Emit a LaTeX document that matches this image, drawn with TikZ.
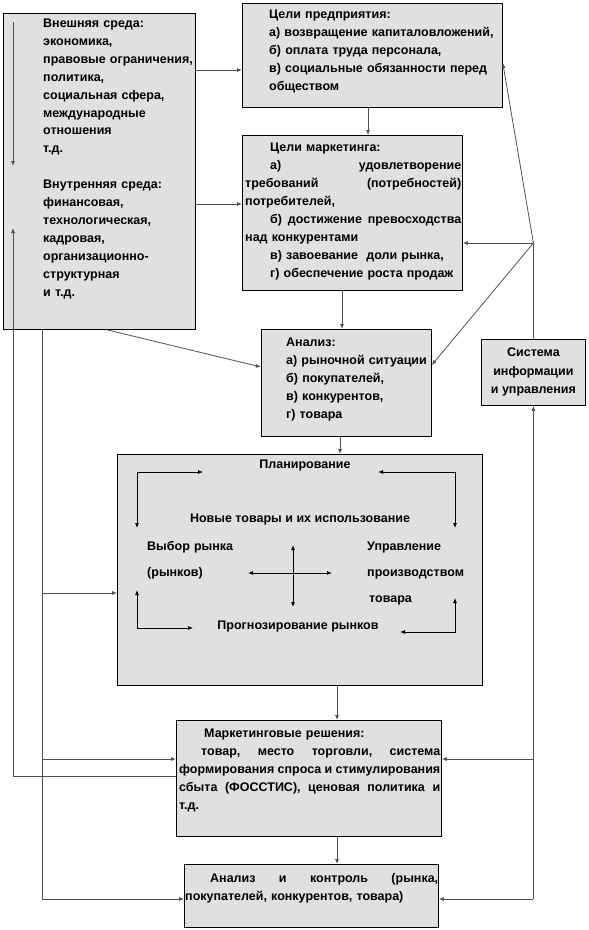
\documentclass[tikz,border=0pt]{standalone}
\usepackage{fontspec}
\setmainfont{Liberation Sans}
\usetikzlibrary{arrows.meta}
\definecolor{boxGray}{RGB}{224,224,224}
\definecolor{lineGray}{RGB}{80,80,80}

\begin{document}
\begin{tikzpicture}[x=1pt, y=-1pt,
    blk/.style={draw, fill=boxGray, line width=0.8pt, inner sep=0pt, anchor=north west},
    txt/.style={inner sep=0pt, anchor=base west, align=left, text width=#1,
                font=\bfseries\fontsize{12.5}{18}\selectfont},
    txt/.default=200pt,
    lbl/.style={inner sep=0pt, anchor=base, font=\bfseries\fontsize{12.5}{18}\selectfont},
    arr/.style={draw=lineGray, line width=0.8pt, -{Latex[length=5pt,width=4pt]}},
    dbl/.style={draw=black, line width=0.8pt, {Latex[length=5pt,width=4pt]}-{Latex[length=5pt,width=4pt]}},
    ln/.style={draw=lineGray, line width=0.8pt}]

    \useasboundingbox (0,0) rectangle (589,930);

    % 1. BLOQUES
    \node[blk, minimum width=192, minimum height=316] (env) at (3,13) {};
    \node[blk, minimum width=260, minimum height=104] (goalsFirm) at (242,3) {};
    \node[blk, minimum width=220, minimum height=155] (goalsMkt) at (242,135) {};
    \node[blk, minimum width=170, minimum height=107] (analysis) at (261,329) {};
    \node[blk, minimum width=104, minimum height=66, align=center,
          font=\bfseries\fontsize{12.5}{18.5}\selectfont] (infoSys) at (481,339)
          {Система\\информации\\и управления};
    \node[blk, minimum width=365, minimum height=231] (planning) at (117,454) {};
    \node[blk, minimum width=265, minimum height=116] (decisions) at (176,720) {};
    \node[blk, minimum width=254, minimum height=63] (control) at (184,864) {};

    % 2. TEXTOS
    \node[txt=150pt, font=\bfseries\fontsize{12.5}{17.9}\selectfont] (envText) at (43,27.5)
        {Внешняя среда:\\экономика,\\правовые ограничения,\\политика,\\социальная сфера,\\
         международные\\отношения\\т.д.\\[17.9pt]
         Внутренняя среда:\\финансовая,\\технологическая,\\кадровая,\\организационно-\\
         структурная\\и т.д.};
    \node[txt=232pt] (firmText) at (269,18.5)
        {Цели предприятия:\\а) возвращение капиталовложений,\\б) оплата труда персонала,\\
         в) социальные обязанности перед\\обществом};
    \node[txt=216pt] (mktText) at (245,151.5)
        {\hspace*{25pt}Цели маркетинга:\\
         \hspace*{25pt}а)\hfill удовлетворение\\
         требований\hfill (потребностей)\\
         потребителей,\\
         \hspace*{25pt}б)\hfill достижение\hfill превосходства\\
         над конкурентами\\
         \hspace*{25pt}в) завоевание\ \ доли рынка,\\
         \hspace*{25pt}г) обеспечение роста продаж};
    \node[txt=144pt] (anText) at (286,346.5)
        {Анализ:\\а) рыночной ситуации\\б) покупателей,\\в) конкурентов,\\г) товара};
    \node[txt=261pt] (decText) at (179,737.5)
        {\hspace*{25pt}Маркетинговые решения:\\
         \hspace*{22pt}товар,\hfill место\hfill торговли,\hfill система\\
         формирования\hfill спроса\hfill и\hfill стимулирования\\
         сбыта\hfill (ФОССТИС),\hfill ценовая\hfill политика\hfill и\\
         т.д.};
    \node[txt=253pt] (ctrlText) at (185,882.5)
        {\hspace*{25pt}Анализ\hfill и\hfill контроль\hfill (рынка,\\
         покупателей, конкурентов, товара)};

    % 3. PLANIFICACION (interior)
    \begin{scope}[shift={(planning.north west)}]
        \node[lbl] (planTitle) at (188,14.5) {Планирование};
        \node[lbl] (newGoods) at (183,68.5) {Новые товары и их использование};
        \node[txt=90pt, font=\bfseries\fontsize{12.5}{26}\selectfont] (choice) at (30,96.5)
            {Выбор рынка\\(рынков)};
        \node[txt=110pt, font=\bfseries\fontsize{12.5}{26}\selectfont] (prodMgmt) at (250,96.5)
            {Управление\\производством\\\hspace*{2pt}товара};
        \node[lbl] (forecast) at (181,175.5) {Прогнозирование рынков};
        \draw[dbl] (86,18) -| (20,74);
        \draw[dbl] (261,18) -| (338,74);
        \draw[dbl] (20,136) |- (76,174);
        \draw[dbl] (338,144) |- (283,178);
        \draw[dbl] (131,119) -- (215,119);
        \draw[dbl] (176,91) -- (176,153);
    \end{scope}

    % 4. CONEXIONES
    \coordinate (extTop) at (13,22);
    \coordinate (extEnd) at (13,166);
    \coordinate (fbTip) at (13,228);
    \draw[arr] (extTop) -- (extEnd);
    \draw[arr] (decisions.west |- 0,776) -| (fbTip);

    \draw[arr] (env.east |- 0,70) -- (goalsFirm.west |- 0,70);
    \draw[arr] (env.east |- 0,204) -- (goalsMkt.west |- 0,204);
    \draw[arr] (goalsFirm.south -| 368,0) -- (goalsMkt.north -| 368,0);
    \draw[arr] (goalsMkt.south -| 342,0) -- (analysis.north -| 342,0);
    \draw[arr] (analysis.south -| 340,0) -- (planning.north -| 340,0);
    \draw[arr] (planning.south -| 337,0) -- (decisions.north -| 337,0);
    \draw[arr] (decisions.south -| 337,0) -- (control.north -| 337,0);
    \draw[arr] (env.south -| 107,0) -- (analysis.west |- 0,367);

    % tronco izquierdo
    \coordinate (trunkTop) at (env.south -| 42,0);
    \draw[arr] (trunkTop) |- (control.west |- 0,899);
    \draw[arr] (trunkTop |- 0,593) -- (planning.west |- 0,593);
    \draw[arr] (trunkTop |- 0,759) -- (decisions.west |- 0,759);

    % sistema de informacion
    \coordinate (hub) at (infoSys.north |- 0,243);
    \draw[ln] (infoSys.north) -- (hub);
    \draw[arr] (hub) -- (goalsMkt.east |- hub);
    \draw[arr] (hub) -- (goalsFirm.east |- 0,63);
    \draw[arr] (hub) -- (analysis.east |- 0,365);
    \coordinate (rBot) at (infoSys.south |- 0,899);
    \draw[arr] (rBot) -- (infoSys.south);
    \draw[arr] (rBot) -- (control.east |- rBot);
    \draw[arr] (infoSys.south |- 0,759) -- (decisions.east |- 0,759);

\end{tikzpicture}
\end{document}
